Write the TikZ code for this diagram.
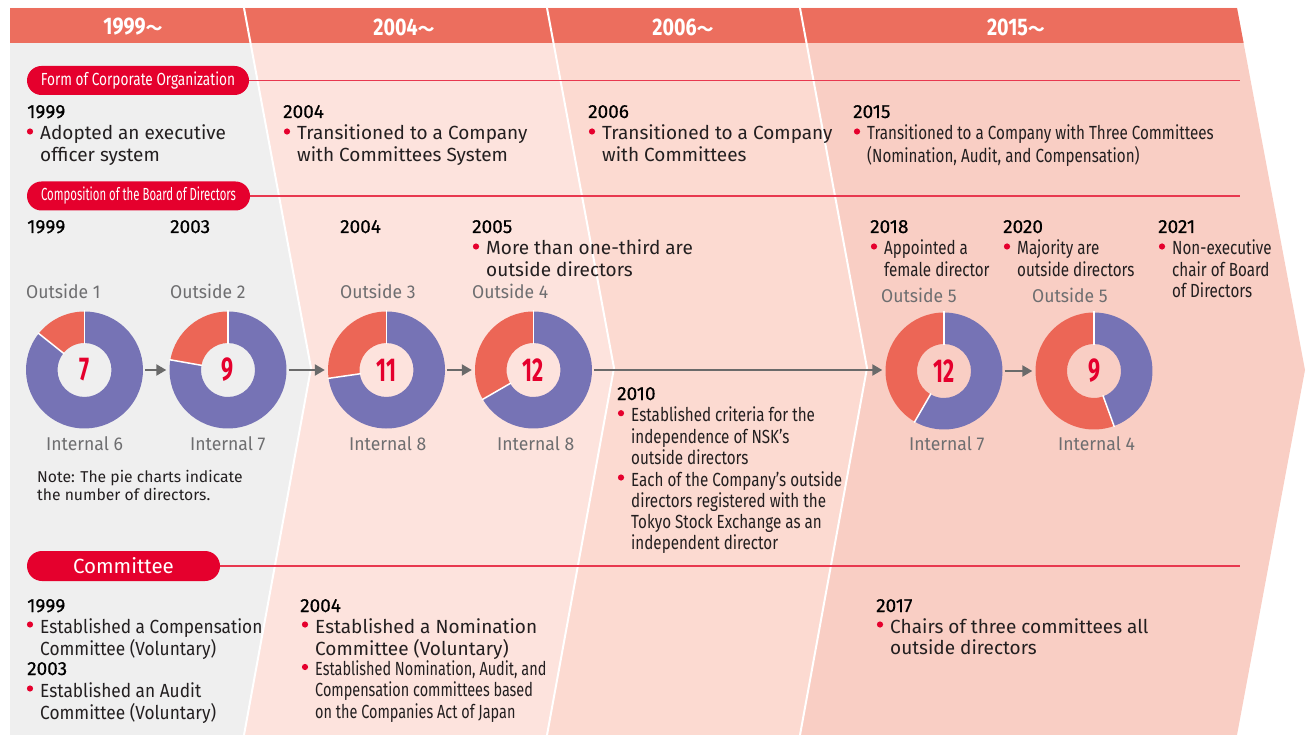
\documentclass[tikz,border=0pt]{standalone}
\usepackage{fontspec}
\setmainfont{Fira Sans}
\newfontfamily\condf[FakeStretch=0.8]{Fira Sans}
\newfontfamily\condxf[FakeStretch=0.76]{Fira Sans}
\newfontfamily\narf[FakeStretch=0.91]{Fira Sans}
\newfontfamily\hdrf[FakeStretch=0.82]{Fira Sans}
\newfontfamily\pillf[FakeStretch=0.78]{Fira Sans}
\newfontfamily\pillxf[FakeStretch=0.65]{Fira Sans}
\newfontfamily\numf[FakeStretch=0.65]{Fira Sans}
\newfontfamily\lblf[FakeStretch=0.95]{Fira Sans}
\newfontfamily\yearf[FakeBold=0.4]{Fira Sans}
\newfontfamily\cjkf{Noto Sans CJK JP}
\usetikzlibrary{arrows.meta}
\definecolor{hdr}{HTML}{EC6E5E}
\definecolor{pone}{HTML}{EFEFEF}
\definecolor{ptwo}{HTML}{FDE3DD}
\definecolor{pthree}{HTML}{FCDAD1}
\definecolor{pfour}{HTML}{F9CEC4}
\definecolor{bred}{HTML}{E5002D}
\definecolor{rline}{HTML}{E8384F}
\definecolor{cpur}{HTML}{7673B5}
\definecolor{corg}{HTML}{EC6656}
\definecolor{tdark}{HTML}{231F20}
\definecolor{lgray}{HTML}{6E6E70}
\definecolor{agray}{HTML}{6A6A6A}
\newcommand\ml[1]{\begin{tabular}[t]{@{}l@{}}#1\end{tabular}}
\newcommand\bitem[5][txt]{%
  \fill[bred] ({#3-10},{#4-8.5}) circle[radius=3.1pt];
  \node[#1] (#2) at (#3,#4) {\ml{#5}};}
\newcommand\tld{{\cjkf\fontsize{17}{20}\selectfont ～}}
\newcommand\donut[3]{% centre, outside, total
  \pgfmathsetmacro\angb{90+360*#2/#3}
  \fill[corg] (#1) ++(90:58.5pt) arc[start angle=90,end angle=\angb,radius=58.5pt]
     -- ++(\angb+180:31.5pt) arc[start angle=\angb,end angle=90,radius=27pt] -- cycle;
  \fill[cpur] (#1) ++(\angb:58.5pt) arc[start angle=\angb,end angle=450,radius=58.5pt]
     -- ++(270:31.5pt) arc[start angle=450,end angle=\angb,radius=27pt] -- cycle;
  \draw[white,line width=1.5pt] (#1) ++(90:26pt) -- ++(90:33.5pt);
  \draw[white,line width=1.5pt] (#1) ++(\angb:26pt) -- ++(\angb:33.5pt);}
\begin{document}
\begin{tikzpicture}[x=1pt,y=-1pt,
  txt/.style={anchor=base west,inner sep=0pt,text=tdark,font=\fontsize{19}{21.3}\selectfont},
  ntxt/.style={txt,font=\narf\fontsize{19}{21.3}\selectfont},
  ctxt/.style={txt,font=\condf\fontsize{19}{21.3}\selectfont},
  cxtxt/.style={txt,font=\condxf\fontsize{19}{21.3}\selectfont},
  yr/.style={anchor=base west,inner sep=0pt,text=black,font=\yearf\fontsize{19}{21}\selectfont},
  hyr/.style={text=white,inner sep=0pt,font=\hdrf\bfseries\fontsize{24}{26}\selectfont},
  pill/.style={rounded corners=14.5pt,fill=bred,text=white,minimum height=29pt,inner sep=0pt,font=\pillf\fontsize{17.5}{19}\selectfont},
  xpill/.style={pill,font=\pillxf\fontsize{17.5}{19}\selectfont},
  cpill/.style={pill,minimum height=30pt,rounded corners=15pt,font=\fontsize{20.5}{22}\selectfont},
  rl/.style={draw=rline,line width=1.3pt},
  lbl/.style={anchor=base west,inner sep=0pt,text=lgray,font=\lblf\fontsize{18.5}{20}\selectfont},
  num/.style={circle,minimum size=117pt,inner sep=0pt,text=bred,font=\numf\bfseries\fontsize{33}{34}\selectfont},
  arr/.style={draw=agray,line width=2.2pt,-{Triangle[length=10pt,width=11pt]},shorten <=2pt,shorten >=3pt},
  note/.style={anchor=base west,inner sep=0pt,text=tdark,font=\fontsize{15.7}{18}\selectfont}]
\useasboundingbox (0,0) rectangle (1315,735);
% panels
\fill[pone] (10,8) -- (244,8) -- (311,368) -- (244,735) -- (10,735) -- cycle;
\fill[ptwo] (244,8) -- (547,8) -- (614,368) -- (547,735) -- (244,735) -- (311,368) -- cycle;
\fill[pthree] (547,8) -- (800,8) -- (867,368) -- (800,735) -- (547,735) -- (614,368) -- cycle;
\fill[pfour] (800,8) -- (1237,8) -- (1305,370) -- (1237,735) -- (800,735) -- (867,368) -- cycle;
\begin{scope}
  \clip (10,8) -- (1237,8) -- (1305,370) -- (1237,735) -- (10,735) -- cycle;
  \fill[hdr] (0,8) rectangle (1315,43);
\end{scope}
\draw[white,line width=2pt] (244,8) -- (311,368) -- (244,735);
\draw[white,line width=2pt] (547,8) -- (614,368) -- (547,735);
\draw[white,line width=2pt] (800,8) -- (867,368) -- (800,735);
% header years
\node[hyr] (h1) at (133,27) {1999\tld};
\node[hyr] (h2) at (404,27) {2004\tld};
\node[hyr] (h3) at (683,27) {2006\tld};
\node[hyr] (h4) at (1016,27) {2015\tld};
% pills and lines
\node[pill,minimum width=222pt] (pa) at (138,80.5) {Form of Corporate Organization};
\coordinate (ea) at (1240,80.5);
\draw[rl] (pa.east) -- (ea);
\node[xpill,minimum width=223pt] (pb) at (138.5,196) {Composition of the Board of Directors};
\coordinate (eb) at (1240,196);
\draw[rl] (pb.east) -- (eb);
\node[cpill,minimum width=193pt] (pc) at (123.5,566) {Committee};
\coordinate (ec) at (1240,566);
\draw[rl] (pc.east) -- (ec);
% row 1
\node[yr] (y1a) at (27,118) {1999};
\bitem{t1a}{40}{140}{Adopted an executive\\officer system}
\node[yr] (y1b) at (283,118) {2004};
\bitem{t1b}{297}{140}{Transitioned to a Company\\with Committees System}
\node[yr] (y1c) at (588,118) {2006};
\bitem{t1c}{602}{140}{Transitioned to a Company\\with Committees}
\node[yr] (y1d) at (853,118) {2015};
\bitem[ctxt]{t1d}{867}{140}{Transitioned to a Company with Three Committees\\(Nomination, Audit, and Compensation)}
% row 2 years
\node[yr] (y2a) at (27,233) {1999};
\node[yr] (y2b) at (170,233) {2003};
\node[yr] (y2c) at (340,233) {2004};
\node[yr] (y2d) at (472,233) {2005};
\node[yr] (y2e) at (870,233) {2018};
\node[yr] (y2f) at (1003,233) {2020};
\node[yr] (y2g) at (1158,233) {2021};
\bitem{t2d}{486}{255}{More than one-third are\\outside directors}
\bitem[ctxt]{t2e}{884}{255}{Appointed a\\female director}
\bitem[ctxt]{t2f}{1017}{255}{Majority are\\outside directors}
\bitem[ctxt]{t2g}{1172}{255}{Non-executive\\chair of Board\\of Directors}
% pies
\coordinate (c1) at (84.5,370);
\coordinate (c2) at (228,370);
\coordinate (c3) at (386.5,370);
\coordinate (c4) at (533.5,370);
\coordinate (c5) at (944,371);
\coordinate (c6) at (1094,371);
\donut{c1}{1}{7}
\donut{c2}{2}{9}
\donut{c3}{3}{11}
\donut{c4}{4}{12}
\donut{c5}{5}{12}
\donut{c6}{5}{9}
\node[num] (p1) at (c1) {7};
\node[num] (p2) at (c2) {9};
\node[num] (p3) at (c3) {11};
\node[num] (p4) at (c4) {12};
\node[num] (p5) at (c5) {12};
\node[num] (p6) at (c6) {9};
\draw[arr] (p1) -- (p2);
\draw[arr] (p2) -- (p3);
\draw[arr] (p3) -- (p4);
\draw[arr] (p4.east) -- (p4.east -| p5.west);
\draw[arr] (p5) -- (p6);
% pie labels
\node[lbl] (o1) at (26,299) {Outside 1};
\node[lbl] (o2) at (170,299) {Outside 2};
\node[lbl] (o3) at (340,299) {Outside 3};
\node[lbl] (o4) at (472,299) {Outside 4};
\node[lbl] (o5) at (881,303) {Outside 5};
\node[lbl] (o6) at (1032,303) {Outside 5};
\node[lbl] (i1) at (46,450) {Internal 6};
\node[lbl] (i2) at (190,450) {Internal 7};
\node[lbl] (i3) at (349,450) {Internal 8};
\node[lbl] (i4) at (497,450) {Internal 8};
\node[lbl] (i5) at (909,450) {Internal 7};
\node[lbl] (i6) at (1058,450) {Internal 4};
\node[note] (nt) at (37,482) {\begin{tabular}[t]{@{}l@{}}Note: The pie charts indicate\\the number of directors.\end{tabular}};
% 2010
\node[yr] (y10) at (617,400) {2010};
\bitem[ctxt]{t10a}{631}{421.7}{Established criteria for the\\independence of NSK’s\\outside directors}
\bitem[ctxt]{t10b}{631}{486}{Each of the Company’s outside\\directors registered with the\\Tokyo Stock Exchange as an\\independent director}
% committee row
\node[yr] (y3a) at (27,612) {1999};
\bitem[ntxt]{t3a}{40}{633}{Established a Compensation\\Committee (Voluntary)}
\node[yr] (y3b) at (27,675) {2003};
\bitem[ntxt]{t3b}{40}{697}{Established an Audit\\Committee (Voluntary)}
\node[yr] (y3c) at (300,612) {2004};
\bitem{t3c}{315}{633}{Established a Nomination\\Committee (Voluntary)}
\bitem[cxtxt]{t3d}{315}{675.5}{Established Nomination, Audit, and\\Compensation committees based\\on the Companies Act of Japan}
\node[yr] (y3e) at (876,612) {2017};
\bitem{t3e}{890}{633}{Chairs of three committees all\\outside directors}
\end{tikzpicture}
\end{document}
